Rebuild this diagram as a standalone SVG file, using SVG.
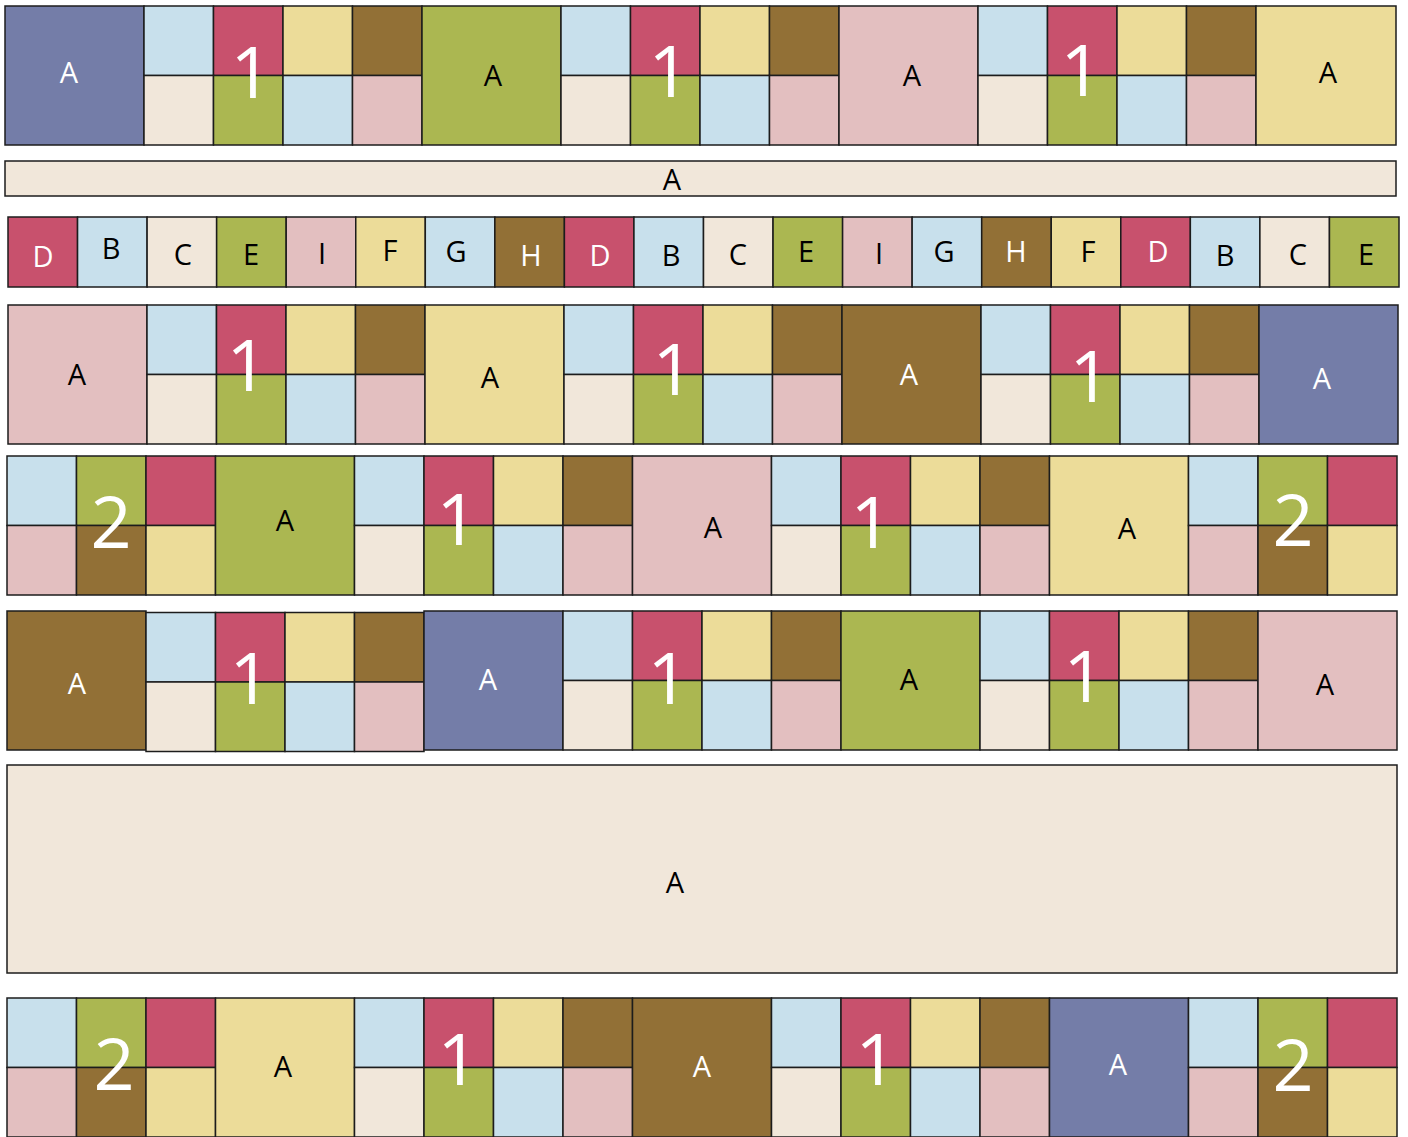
<svg xmlns="http://www.w3.org/2000/svg" xmlns:xlink="http://www.w3.org/1999/xlink" width="1408" height="1137" viewBox="0 0 1408 1137">
<style>
rect{stroke:#1c1c1c;stroke-width:1.5}
.v{fill:#747DA8}.b{fill:#C8E0EC}.r{fill:#C8516D}.y{fill:#ECDC99}.h{fill:#927036}.c{fill:#F1E7DA}.g{fill:#ABB751}.p{fill:#E3BFC0}
text{font-family:"Open Sans","Noto Sans",sans-serif;text-anchor:middle}
.t{font-size:29px;fill:#000}
.w{font-size:29px;fill:#fff}
.n{font-size:72px;fill:#fff}
</style>
<defs>
<g id="blk1">
<rect class="b" x="0" y="0" width="69.5" height="69.5"/>
<rect class="r" x="69.5" y="0" width="69.5" height="69.5"/>
<rect class="y" x="139" y="0" width="69.5" height="69.5"/>
<rect class="h" x="208.5" y="0" width="69.5" height="69.5"/>
<rect class="c" x="0" y="69.5" width="69.5" height="69.5"/>
<rect class="g" x="69.5" y="69.5" width="69.5" height="69.5"/>
<rect class="b" x="139" y="69.5" width="69.5" height="69.5"/>
<rect class="p" x="208.5" y="69.5" width="69.5" height="69.5"/>
</g>
<g id="blk2">
<rect class="b" x="0" y="0" width="69.5" height="69.5"/>
<rect class="g" x="69.5" y="0" width="69.5" height="69.5"/>
<rect class="r" x="139" y="0" width="69.5" height="69.5"/>
<rect class="p" x="0" y="69.5" width="69.5" height="69.5"/>
<rect class="h" x="69.5" y="69.5" width="69.5" height="69.5"/>
<rect class="y" x="139" y="69.5" width="69.5" height="69.5"/>
</g>
</defs>

<!-- Row 1 -->
<g id="r1-a1"><rect class="v" x="5" y="6" width="139" height="139"/><text class="w" x="69" y="83">A</text></g>
<g id="r1-b1"><use xlink:href="#blk1" x="144" y="6"/><text class="n" x="251" y="98">1</text></g>
<g id="r1-a2"><rect class="g" x="422" y="6" width="139" height="139"/><text class="t" x="493" y="86">A</text></g>
<g id="r1-b2"><use xlink:href="#blk1" x="561" y="6"/><text class="n" x="669" y="97">1</text></g>
<g id="r1-a3"><rect class="p" x="839" y="6" width="139" height="139"/><text class="t" x="912" y="86">A</text></g>
<g id="r1-b3"><use xlink:href="#blk1" x="978" y="6"/><text class="n" x="1081" y="96">1</text></g>
<g id="r1-a4"><rect class="y" x="1256" y="6" width="140" height="139"/><text class="t" x="1328" y="83">A</text></g>

<!-- Row 2 sashing -->
<g id="r2-a"><rect class="c" x="5" y="161" width="1391" height="35"/><text class="t" x="672" y="190">A</text></g>

<!-- Row 3 -->
<g id="r3-01"><rect class="r" x="8" y="217" width="69.55" height="70"/><text class="w" x="43" y="267">D</text></g>
<g id="r3-02"><rect class="b" x="77.55" y="217" width="69.55" height="70"/><text class="t" x="111" y="259">B</text></g>
<g id="r3-03"><rect class="c" x="147.1" y="217" width="69.55" height="70"/><text class="t" x="183" y="265">C</text></g>
<g id="r3-04"><rect class="g" x="216.65" y="217" width="69.55" height="70"/><text class="t" x="251" y="265">E</text></g>
<g id="r3-05"><rect class="p" x="286.2" y="217" width="69.55" height="70"/><text class="t" x="322" y="264">I</text></g>
<g id="r3-06"><rect class="y" x="355.75" y="217" width="69.55" height="70"/><text class="t" x="390" y="261">F</text></g>
<g id="r3-07"><rect class="b" x="425.3" y="217" width="69.55" height="70"/><text class="t" x="456" y="262">G</text></g>
<g id="r3-08"><rect class="h" x="494.85" y="217" width="69.55" height="70"/><text class="w" x="531" y="266">H</text></g>
<g id="r3-09"><rect class="r" x="564.4" y="217" width="69.55" height="70"/><text class="w" x="600" y="266">D</text></g>
<g id="r3-10"><rect class="b" x="633.95" y="217" width="69.55" height="70"/><text class="t" x="671" y="266">B</text></g>
<g id="r3-11"><rect class="c" x="703.5" y="217" width="69.55" height="70"/><text class="t" x="738" y="265">C</text></g>
<g id="r3-12"><rect class="g" x="773.05" y="217" width="69.55" height="70"/><text class="t" x="806" y="262">E</text></g>
<g id="r3-13"><rect class="p" x="842.6" y="217" width="69.55" height="70"/><text class="t" x="879" y="264">I</text></g>
<g id="r3-14"><rect class="b" x="912.15" y="217" width="69.55" height="70"/><text class="t" x="944" y="262">G</text></g>
<g id="r3-15"><rect class="h" x="981.7" y="217" width="69.55" height="70"/><text class="w" x="1016" y="262">H</text></g>
<g id="r3-16"><rect class="y" x="1051.25" y="217" width="69.55" height="70"/><text class="t" x="1088" y="262">F</text></g>
<g id="r3-17"><rect class="r" x="1120.8" y="217" width="69.55" height="70"/><text class="w" x="1158" y="262">D</text></g>
<g id="r3-18"><rect class="b" x="1190.35" y="217" width="69.55" height="70"/><text class="t" x="1225" y="266">B</text></g>
<g id="r3-19"><rect class="c" x="1259.9" y="217" width="69.55" height="70"/><text class="t" x="1298" y="265">C</text></g>
<g id="r3-20"><rect class="g" x="1329.45" y="217" width="69.55" height="70"/><text class="t" x="1366" y="265">E</text></g>

<!-- Row 4 -->
<g id="r4-a1"><rect class="p" x="8" y="305" width="139" height="139"/><text class="t" x="77" y="385">A</text></g>
<g id="r4-b1"><use xlink:href="#blk1" x="147" y="305"/><text class="n" x="247" y="391">1</text></g>
<g id="r4-a2"><rect class="y" x="425" y="305" width="139" height="139"/><text class="t" x="490" y="388">A</text></g>
<g id="r4-b2"><use xlink:href="#blk1" x="564" y="305"/><text class="n" x="673" y="395">1</text></g>
<g id="r4-a3"><rect class="h" x="842" y="305" width="139" height="139"/><text class="w" x="909" y="385">A</text></g>
<g id="r4-b3"><use xlink:href="#blk1" x="981" y="305"/><text class="n" x="1090" y="402">1</text></g>
<g id="r4-a4"><rect class="v" x="1259" y="305" width="139" height="139"/><text class="w" x="1322" y="389">A</text></g>

<!-- Row 5 -->
<g id="r5-c1"><use xlink:href="#blk2" x="7" y="456"/><text class="n" x="111" y="548">2</text></g>
<g id="r5-a1"><rect class="g" x="215.5" y="456" width="139" height="139"/><text class="t" x="285" y="531">A</text></g>
<g id="r5-b1"><use xlink:href="#blk1" x="354.5" y="456"/><text class="n" x="457" y="545">1</text></g>
<g id="r5-a2"><rect class="p" x="632.5" y="456" width="139" height="139"/><text class="t" x="713" y="538">A</text></g>
<g id="r5-b2"><use xlink:href="#blk1" x="771.5" y="456"/><text class="n" x="871" y="548">1</text></g>
<g id="r5-a3"><rect class="y" x="1049.5" y="456" width="139" height="139"/><text class="t" x="1127" y="539">A</text></g>
<g id="r5-c2"><use xlink:href="#blk2" x="1188.5" y="456"/><text class="n" x="1293" y="546">2</text></g>

<!-- Row 6 -->
<g id="r6-a1"><rect class="h" x="7" y="611" width="139" height="139"/><text class="w" x="77" y="694">A</text></g>
<g id="r6-b1"><use xlink:href="#blk1" x="146" y="612.5"/><text class="n" x="250" y="704">1</text></g>
<g id="r6-a2"><rect class="v" x="424" y="611" width="139" height="139"/><text class="w" x="488" y="690">A</text></g>
<g id="r6-b2"><use xlink:href="#blk1" x="563" y="611"/><text class="n" x="668" y="704">1</text></g>
<g id="r6-a3"><rect class="g" x="841" y="611" width="139" height="139"/><text class="t" x="909" y="690">A</text></g>
<g id="r6-b3"><use xlink:href="#blk1" x="980" y="611"/><text class="n" x="1084" y="702">1</text></g>
<g id="r6-a4"><rect class="p" x="1258" y="611" width="139" height="139"/><text class="t" x="1325" y="695">A</text></g>

<!-- Row 7 -->
<g id="r7-a"><rect class="c" x="7" y="765" width="1390" height="208"/><text class="t" x="675" y="893">A</text></g>

<!-- Row 8 -->
<g id="r8-c1"><use xlink:href="#blk2" x="7" y="998"/><text class="n" x="114" y="1090">2</text></g>
<g id="r8-a1"><rect class="y" x="215.5" y="998" width="139" height="139"/><text class="t" x="283" y="1077">A</text></g>
<g id="r8-b1"><use xlink:href="#blk1" x="354.5" y="998"/><text class="n" x="458" y="1085">1</text></g>
<g id="r8-a2"><rect class="h" x="632.5" y="998" width="139" height="139"/><text class="w" x="702" y="1077">A</text></g>
<g id="r8-b2"><use xlink:href="#blk1" x="771.5" y="998"/><text class="n" x="876" y="1085">1</text></g>
<g id="r8-a3"><rect class="v" x="1049.5" y="998" width="139" height="139"/><text class="w" x="1118" y="1075">A</text></g>
<g id="r8-c2"><use xlink:href="#blk2" x="1188.5" y="998"/><text class="n" x="1293" y="1091">2</text></g>

<g id="connectors"/>
</svg>
